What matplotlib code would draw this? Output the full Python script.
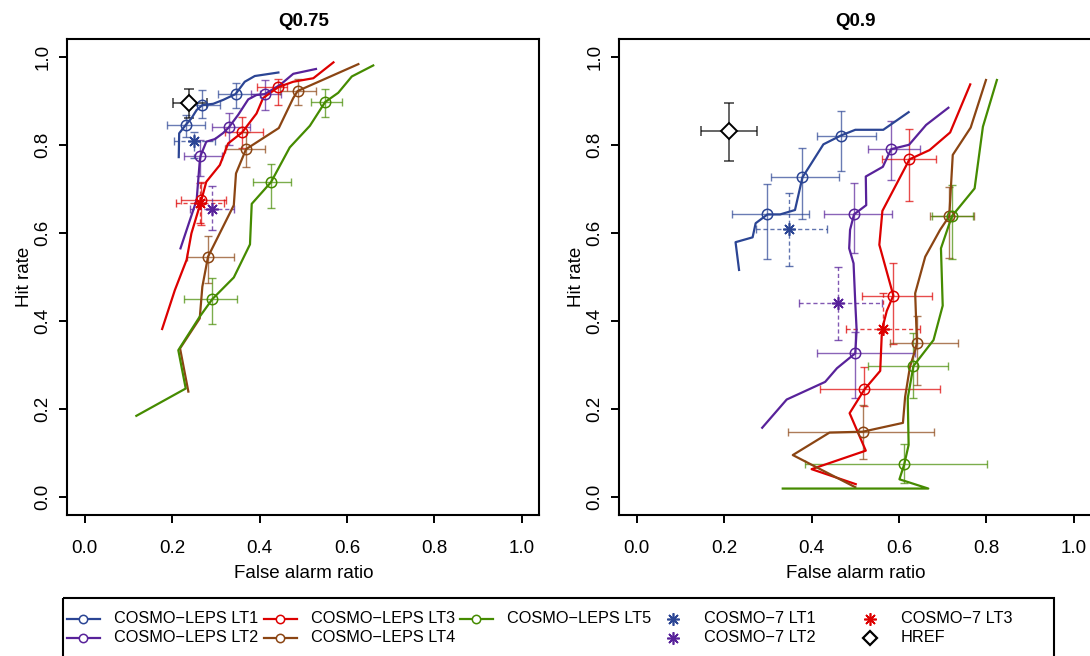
import matplotlib
matplotlib.use("Agg")
import matplotlib.pyplot as plt
from matplotlib.patches import Rectangle

plt.rcParams['font.family'] = ['Liberation Sans', 'DejaVu Sans']

colors = ['#2B4594', '#58229A', '#DD0000', '#8B4513', '#458B00']
leps_labels = ['COSMO\u2212LEPS LT1', 'COSMO\u2212LEPS LT2', 'COSMO\u2212LEPS LT3',
               'COSMO\u2212LEPS LT4', 'COSMO\u2212LEPS LT5']
c7_labels = ['COSMO\u22127 LT1', 'COSMO\u22127 LT2', 'COSMO\u22127 LT3']
titles = ['Q0.75', 'Q0.9']

# ---- Q0.75 : curves (false alarm ratio, hit rate) ----
q75_lt1_far = [.215, .216, .231, .244, .256, .269, .294, .317, .345, .366, .389, .443]
q75_lt1_hr = [.772, .826, .845, .860, .879, .890, .893, .902, .915, .943, .956, .964]
q75_lt2_far = [.219, .256, .263, .265, .278, .298, .317, .330, .351, .374, .393, .412, .447, .477, .529]
q75_lt2_hr = [.565, .675, .762, .775, .807, .813, .827, .840, .868, .903, .913, .915, .936, .961, .972]
q75_lt3_far = [.177, .206, .233, .244, .267, .278, .309, .328, .360, .393, .408, .443, .477, .523, .569]
q75_lt3_hr = [.382, .470, .539, .599, .675, .716, .754, .803, .828, .871, .906, .931, .943, .951, .987]
q75_lt4_far = [.237, .218, .263, .269, .282, .341, .346, .369, .444, .477, .487, .626]
q75_lt4_hr = [.240, .338, .406, .478, .546, .663, .735, .790, .838, .906, .922, .983]
q75_lt5_far = [.118, .231, .214, .263, .292, .341, .378, .382, .426, .469, .515, .550, .580, .611, .660]
q75_lt5_hr = [.185, .247, .334, .410, .450, .499, .574, .666, .715, .794, .843, .897, .918, .955, .980]

# marked points with confidence ranges, one row per lead time
q75_pt_far = [[.231, .269, .345], [.264, .330, .412], [.267, .360, .443], [.282, .369, .487], [.292, .426, .550]]
q75_pt_hr = [[.845, .890, .915], [.775, .840, .915], [.675, .828, .931], [.546, .790, .922], [.450, .715, .897]]
q75_far_lo = [[.189, .235, .305], [.227, .290, .380], [.221, .321, .395], [.235, .321, .447], [.227, .385, .517]]
q75_far_hi = [[.275, .310, .401], [.313, .378, .450], [.324, .408, .462], [.341, .412, .529], [.349, .471, .589]]
q75_hr_lo = [[.818, .861, .883], [.730, .800, .880], [.618, .792, .890], [.486, .750, .890], [.393, .656, .864]]
q75_hr_hi = [[.868, .925, .941], [.810, .873, .946], [.715, .862, .950], [.594, .830, .950], [.498, .756, .927]]

# COSMO-7 LT1..LT3 and HREF
q75_c7_far = [.250, .292, .263]
q75_c7_hr = [.809, .654, .667]
q75_c7_far_lo = [.203, .240, .209]
q75_c7_far_hi = [.298, .341, .318]
q75_c7_hr_lo = [.770, .607, .622]
q75_c7_hr_hi = [.830, .707, .713]
q75_href = [.238, .894]
q75_href_far_rng = [.202, .279]
q75_href_hr_rng = [.860, .926]

# ---- Q0.9 ----
q90_lt1_far = [.234, .226, .265, .272, .299, .328, .362, .379, .397, .427, .467, .500, .564, .622]
q90_lt1_hr = [.516, .579, .590, .622, .642, .642, .652, .726, .754, .801, .821, .834, .834, .874]
q90_lt2_far = [.287, .343, .431, .458, .500, .503, .500, .496, .486, .488, .497, .525, .524, .563, .582, .623, .662, .713]
q90_lt2_hr = [.158, .222, .262, .293, .327, .380, .440, .531, .565, .607, .642, .663, .728, .750, .790, .800, .845, .884]
q90_lt3_far = [.501, .400, .524, .487, .521, .557, .561, .572, .587, .555, .562, .624, .670, .717, .763]
q90_lt3_hr = [.030, .064, .106, .191, .245, .287, .380, .423, .458, .573, .650, .767, .788, .828, .937]
q90_lt4_far = [.500, .357, .441, .517, .609, .614, .625, .637, .641, .637, .660, .694, .715, .723, .764, .799]
q90_lt4_hr = [.023, .096, .147, .149, .169, .228, .296, .334, .351, .463, .546, .607, .638, .777, .839, .947]
q90_lt5_far = [.334, .667, .601, .612, .622, .620, .633, .679, .700, .696, .721, .773, .792, .824]
q90_lt5_hr = [.020, .020, .041, .075, .119, .225, .298, .357, .435, .565, .638, .701, .841, .947]

q90_pt_far = [[.299, .379, .467], [.500, .497, .582], [.521, .587, .624], [.517, .641, .715], [.612, .633, .721]]
q90_pt_hr = [[.642, .726, .821], [.327, .642, .790], [.245, .458, .767], [.149, .351, .638], [.075, .298, .638]]
q90_far_lo = [[.217, .307, .412], [.412, .429, .529], [.419, .515, .561], [.347, .580, .671], [.385, .528, .675]]
q90_far_hi = [[.395, .463, .547], [.637, .584, .648], [.694, .675, .684], [.679, .736, .772], [.801, .713, .770]]
q90_hr_lo = [[.540, .631, .741], [.226, .555, .720], [.208, .348, .673], [.086, .255, .542], [.033, .226, .540]]
q90_hr_hi = [[.711, .792, .877], [.376, .714, .855], [.295, .531, .835], [.209, .411, .705], [.121, .374, .709]]

q90_c7_far = [.349, .461, .563]
q90_c7_hr = [.609, .442, .381]
q90_c7_far_lo = [.272, .371, .478]
q90_c7_far_hi = [.436, .562, .648]
q90_c7_hr_lo = [.525, .357, .375]
q90_c7_hr_hi = [.690, .523, .464]
q90_href = [.211, .832]
q90_href_far_rng = [.146, .275]
q90_href_hr_rng = [.764, .894]

panels = [
    dict(curves=[(q75_lt1_far, q75_lt1_hr), (q75_lt2_far, q75_lt2_hr), (q75_lt3_far, q75_lt3_hr),
                 (q75_lt4_far, q75_lt4_hr), (q75_lt5_far, q75_lt5_hr)],
         pts=(q75_pt_far, q75_pt_hr, q75_far_lo, q75_far_hi, q75_hr_lo, q75_hr_hi),
         c7=(q75_c7_far, q75_c7_hr, q75_c7_far_lo, q75_c7_far_hi, q75_c7_hr_lo, q75_c7_hr_hi),
         href=(q75_href, q75_href_far_rng, q75_href_hr_rng)),
    dict(curves=[(q90_lt1_far, q90_lt1_hr), (q90_lt2_far, q90_lt2_hr), (q90_lt3_far, q90_lt3_hr),
                 (q90_lt4_far, q90_lt4_hr), (q90_lt5_far, q90_lt5_hr)],
         pts=(q90_pt_far, q90_pt_hr, q90_far_lo, q90_far_hi, q90_hr_lo, q90_hr_hi),
         c7=(q90_c7_far, q90_c7_hr, q90_c7_far_lo, q90_c7_far_hi, q90_c7_hr_lo, q90_c7_hr_hi),
         href=(q90_href, q90_href_far_rng, q90_href_hr_rng)),
]

W, H = 1090, 656
fig = plt.figure(figsize=(W / 100, H / 100), dpi=100)

STAR = (8, 2, 0)
fs = 13.5


def err(vals, lo, hi):
    return [[v - l for v, l in zip(vals, lo)], [h - v for v, h in zip(vals, hi)]]


ax_left = [67.3, 619.3]
for k, p in enumerate(panels):
    ax = fig.add_axes([ax_left[k] / W, 1 - 515 / H, 472 / W, 476 / H])
    for i, (fx, hy) in enumerate(p['curves']):
        ax.plot(fx, hy, color=colors[i], lw=1.6, zorder=3)
    pf, ph, flo, fhi, hlo, hhi = p['pts']
    for i in range(5):
        ax.errorbar(pf[i], ph[i], xerr=err(pf[i], flo[i], fhi[i]), yerr=err(ph[i], hlo[i], hhi[i]),
                    fmt='none', ecolor=colors[i], elinewidth=1.0, capsize=3.2, capthick=1.0,
                    alpha=0.7, zorder=2)
        ax.plot(pf[i], ph[i], 'o', mfc='none', mec=colors[i], ms=7.5, mew=1.1, zorder=4)
    cf, ch, cflo, cfhi, chlo, chhi = p['c7']
    for i in range(3):
        eb = ax.errorbar([cf[i]], [ch[i]], xerr=err([cf[i]], [cflo[i]], [cfhi[i]]),
                         yerr=err([ch[i]], [chlo[i]], [chhi[i]]),
                         fmt='none', ecolor=colors[i], elinewidth=1.0, capsize=3.2, capthick=1.0,
                         alpha=0.75, zorder=2)
        for lc in eb[2]:
            lc.set_linestyle((0, (3, 2)))
        ax.plot(cf[i], ch[i], marker=STAR, color=colors[i], ms=9, mew=1.2, ls='none', zorder=4)
    hv, hfr, hhr = p['href']
    ax.errorbar([hv[0]], [hv[1]], xerr=err([hv[0]], [hfr[0]], [hfr[1]]),
                yerr=err([hv[1]], [hhr[0]], [hhr[1]]), fmt='none', ecolor='black',
                elinewidth=1.2, capsize=3.5, capthick=1.2, alpha=0.7, zorder=2)
    ax.plot(hv[0], hv[1], 'D', mfc='white', mec='black', ms=8, mew=1.4, zorder=5)

    ax.set_xlim(-0.04, 1.04)
    ax.set_ylim(-0.04, 1.04)
    ticks = [0, 0.2, 0.4, 0.6, 0.8, 1.0]
    ax.set_xticks(ticks)
    ax.set_yticks(ticks)
    ax.set_xticklabels(['%.1f' % t for t in ticks], fontsize=fs)
    ax.set_yticklabels(['%.1f' % t for t in ticks], fontsize=fs, rotation=90, va='center')
    ax.tick_params(direction='out', length=6, width=1.4, pad=12)
    ax.tick_params(axis='y', pad=5.5)
    for s in ax.spines.values():
        s.set_linewidth(1.5)
    ax.set_xlabel('False alarm ratio', fontsize=fs, labelpad=6)
    ax.set_ylabel('Hit rate', fontsize=fs, labelpad=1)
    ax.set_title(titles[k], fontsize=fs, fontweight='bold', pad=9)

# legend drawn in pixel coordinates to mimic R's equal-width columns
lax = fig.add_axes([0, 0, 1, 1])
lax.set_xlim(0, W)
lax.set_ylim(H, 0)
lax.axis('off')
lax.add_patch(Rectangle((63, 598), 1054 - 63, 80, fill=False, lw=1.5, ec='black', clip_on=False))
col_text_x = [114, 311, 507, 704, 901]
row_y = [618.5, 638]
slots = [(0, 0), (0, 1), (1, 0), (1, 1), (2, 0)]
for i, (c, r) in enumerate(slots):
    tx, ty = col_text_x[c], row_y[r]
    lax.plot([tx - 47, tx - 14], [ty, ty], color=colors[i], lw=1.6)
    lax.plot([tx - 31], [ty], 'o', mfc='white', mec=colors[i], ms=6, mew=1.1)
    lax.text(tx, ty, leps_labels[i], fontsize=11.7, va='center', ha='left')
c7_slots = [(3, 0), (3, 1), (4, 0)]
for i, (c, r) in enumerate(c7_slots):
    tx, ty = col_text_x[c], row_y[r]
    lax.plot([tx - 31], [ty], marker=STAR, color=colors[i], ms=9, mew=1.2, ls='none')
    lax.text(tx, ty, c7_labels[i], fontsize=11.7, va='center', ha='left')
tx, ty = col_text_x[4], row_y[1]
lax.plot([tx - 31], [ty], 'D', mfc='white', mec='black', ms=7, mew=1.6)
lax.text(tx, ty, 'HREF', fontsize=11.7, va='center', ha='left')

fig.savefig('out.png', dpi=100)
